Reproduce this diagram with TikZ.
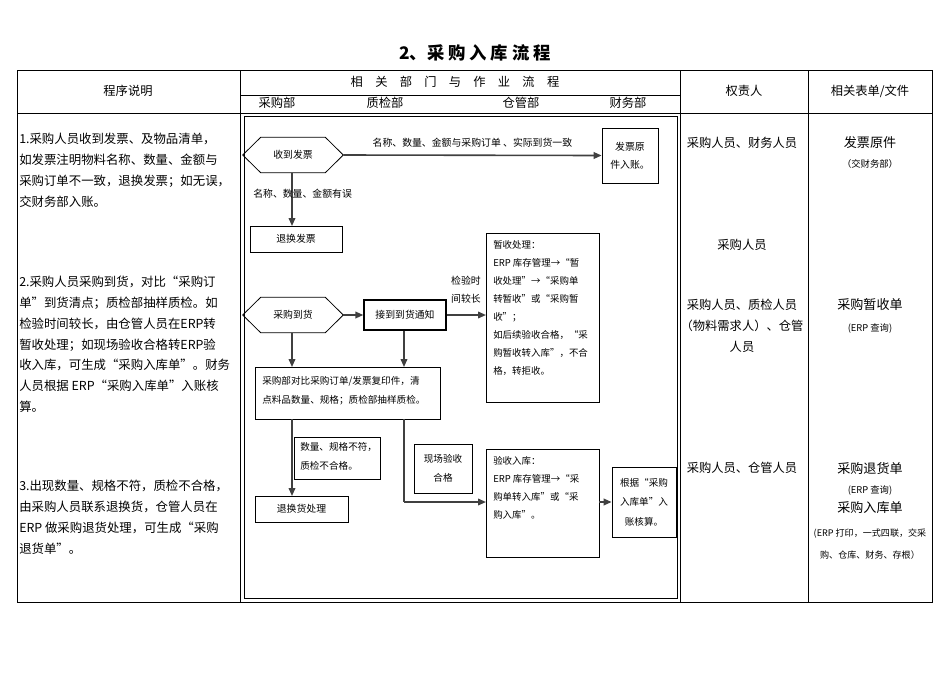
\documentclass[tikz,border=0pt]{standalone}
\usepackage{fontspec}
\setmainfont{Noto Sans CJK SC}
\usetikzlibrary{calc,arrows.meta}
\begin{document}
\begin{tikzpicture}[x=0.75pt,y=-0.75pt,
  every node/.style={inner sep=0pt,font=\fontsize{7.4}{13.5}\selectfont},
  box/.style={draw,line width=0.6pt},
  arr/.style={-{Triangle[length=6pt,width=5pt]},line width=1.2pt,draw=black!75},
  ln/.style={line width=1.2pt,draw=black!75},
  lt/.style={font=\fontsize{9.3}{15.6}\selectfont,align=left,anchor=north west},
  rt/.style={font=\fontsize{9.2}{15.6}\selectfont,align=center},
  sm/.style={font=\fontsize{7}{12}\selectfont,align=center}]
\useasboundingbox (0,0) rectangle (950,672);
\node[font=\fontsize{13}{14}\selectfont\bfseries] (title) at (475,53) {2、采\ 购\ 入\ 库\ 流\ 程};
% table
\draw[line width=0.7pt] (17,70) rectangle (932,602);
\draw[line width=0.7pt] (17,113) -- (932,113);
\foreach \x in {240,680,808} \draw[line width=0.7pt] (\x,70) -- (\x,602);
\draw[line width=0.5pt] (240,95) -- (680,95);
\draw[line width=0.5pt] (244,116) rectangle (677,598);
\node[rt] (h1) at (128,91) {程序说明};
\node[rt] (h2) at (455,82) {相\quad 关\quad 部\quad 门\quad 与\quad 作\quad 业\quad 流\quad 程};
\node[rt] (d1) at (277,103) {采购部};
\node[rt] (d2) at (385,103) {质检部};
\node[rt] (d3) at (521,103) {仓管部};
\node[rt] (d4) at (628,103) {财务部};
\node[rt] (h3) at (744,91) {权责人};
\node[rt] (h4) at (870,91) {相关表单/文件};
% left column
\node[lt] (p1) at (19,133) {1.采购人员收到发票、及物品清单，\\如发票注明物料名称、数量、金额与\\采购订单不一致，退换发票；如无误，\\交财务部入账。};
\node[lt] (p2) at (19,276) {2.采购人员采购到货，对比“采购订\\单”到货清点；质检部抽样质检。如\\检验时间较长，由仓管人员在ERP转\\暂收处理；如现场验收合格转ERP验\\收入库，可生成“采购入库单”。财务\\人员根据 ERP“采购入库单”入账核\\算。};
\node[lt] (p3) at (19,480) {3.出现数量、规格不符，质检不合格，\\由采购人员联系退换货，仓管人员在\\ERP 做采购退货处理，可生成“采购\\退货单”。};
% right columns
\node[rt] (r1) at (742,143) {采购人员、财务人员};
\node[rt] (r2) at (742,245) {采购人员};
\node[rt] (r3) at (742,326) {采购人员、质检人员\\（物料需求人）、仓管\\人员};
\node[rt] (r4) at (742,468) {采购人员、仓管人员};
\node[rt,font=\fontsize{9.8}{12}\selectfont] (f1) at (870,143) {发票原件};
\node[sm] (f1b) at (870,164) {（交财务部）};
\node[rt,font=\fontsize{9.8}{12}\selectfont] (f2) at (870,305) {采购暂收单};
\node[sm] (f2b) at (870,328) {(ERP 查询)};
\node[rt,font=\fontsize{9.8}{12}\selectfont] (f3) at (870,468) {采购退货单};
\node[sm] (f3b) at (870,490) {(ERP 查询)};
\node[rt,font=\fontsize{9.8}{12}\selectfont] (f4) at (870,508) {采购入库单};
\node[sm,font=\fontsize{6.8}{16}\selectfont] (f4b) at (870,544) {(ERP 打印，一式四联，交采\\购、仓库、财务、存根）};
% flow
\node (hx1) at (293,155) [minimum width=100pt*0.75,minimum height=35pt*0.75] {收到发票};
\draw[line width=0.6pt] (hx1.west) -- ($(hx1.north west)+(18,0)$) -- ($(hx1.north east)+(-18,0)$) -- (hx1.east) -- ($(hx1.south east)+(-18,0)$) -- ($(hx1.south west)+(18,0)$) -- cycle;
\node[box,align=center,minimum width=56pt*0.75,minimum height=55pt*0.75] (fp) at (630,155.5) {发票原\\件入账。};
\draw[arr] (hx1.east) -- node[above=5pt] {名称、数量、金额与采购订单 、实际到货一致} (fp.west);
\node[box,minimum width=92pt*0.75,minimum height=26pt*0.75] (thfp) at (296,239) {退换发票};
\coordinate (c1) at (292,173);
\draw[arr] (c1) -- (292,226);
\node[anchor=west] (lb1) at (253,194) {名称、数量、金额有误};
\node (hx2) at (293,315) [minimum width=100pt*0.75,minimum height=35pt*0.75] {采购到货};
\draw[line width=0.6pt] (hx2.west) -- ($(hx2.north west)+(18,0)$) -- ($(hx2.north east)+(-18,0)$) -- (hx2.east) -- ($(hx2.south east)+(-18,0)$) -- ($(hx2.south west)+(18,0)$) -- cycle;
\node[box,line width=1pt,minimum width=82pt*0.75,minimum height=30pt*0.75] (jd) at (405,315) {接到到货通知};
\draw[arr] (hx2.east) -- (jd.west);
\node[box,line width=0.9pt,anchor=north west,minimum width=113pt*0.75,minimum height=169pt*0.75] (zs) at (486,233) {};
\node[lt,font=\fontsize{7.1}{13.5}\selectfont] (zst) at (493,240) {暂收处理：\\ERP 库存管理→“暂\\收处理”→“采购单\\转暂收”或“采购暂\\收”；\\如后续验收合格，“采\\购暂收转入库”，不合\\格，转拒收。};
\draw[arr] (jd.east) -- (jd.east -| zs.west);
\node[align=center] (lb2) at (466,290) {检验时\\间较长};
\node[box,minimum width=185pt*0.75,minimum height=52pt*0.75] (db) at (347.5,393) {};
\node[lt,font=\fontsize{7.2}{14.5}\selectfont] (dbt) at (262,376) {采购部对比采购订单/发票复印件，清\\点料品数量、规格；质检部抽样质检。};
\draw[arr] (292,333) -- (292,367);
\draw[arr] (jd.south -| 404,0) -- (404,367);
\node[box,minimum width=93pt*0.75,minimum height=26pt*0.75] (th) at (301.5,509) {退换货处理};
\draw[arr] (292,419) -- (292,496);
\node[box,minimum width=86pt*0.75,minimum height=42pt*0.75] (bf) at (337,458) {};
\node[lt,font=\fontsize{7.2}{14.5}\selectfont] (bft) at (300,442) {数量、规格不符，\\质检不合格。};
\node[box,align=center,minimum width=58pt*0.75,minimum height=49pt*0.75,font=\fontsize{7.2}{14.5}\selectfont] (xc) at (443,468.5) {现场验收\\合格};
\node[box,minimum width=113pt*0.75,minimum height=108pt*0.75] (ys) at (542.5,503) {};
\node[lt,font=\fontsize{7.1}{13.5}\selectfont] (yst) at (493,456) {验收入库：\\ERP 库存管理→“采\\购单转入库”或“采\\购入库”。};
\draw[ln] (404,419) -- (404,502);
\draw[arr] (404,502) -- (486,502);
\node[box,align=center,minimum width=64pt*0.75,minimum height=70pt*0.75,font=\fontsize{7.2}{14.5}\selectfont] (gj) at (644,502) {根据“采购\\入库单”入\\账核算。};
\draw[arr] (599,502) -- (gj.west);
\end{tikzpicture}
\end{document}
